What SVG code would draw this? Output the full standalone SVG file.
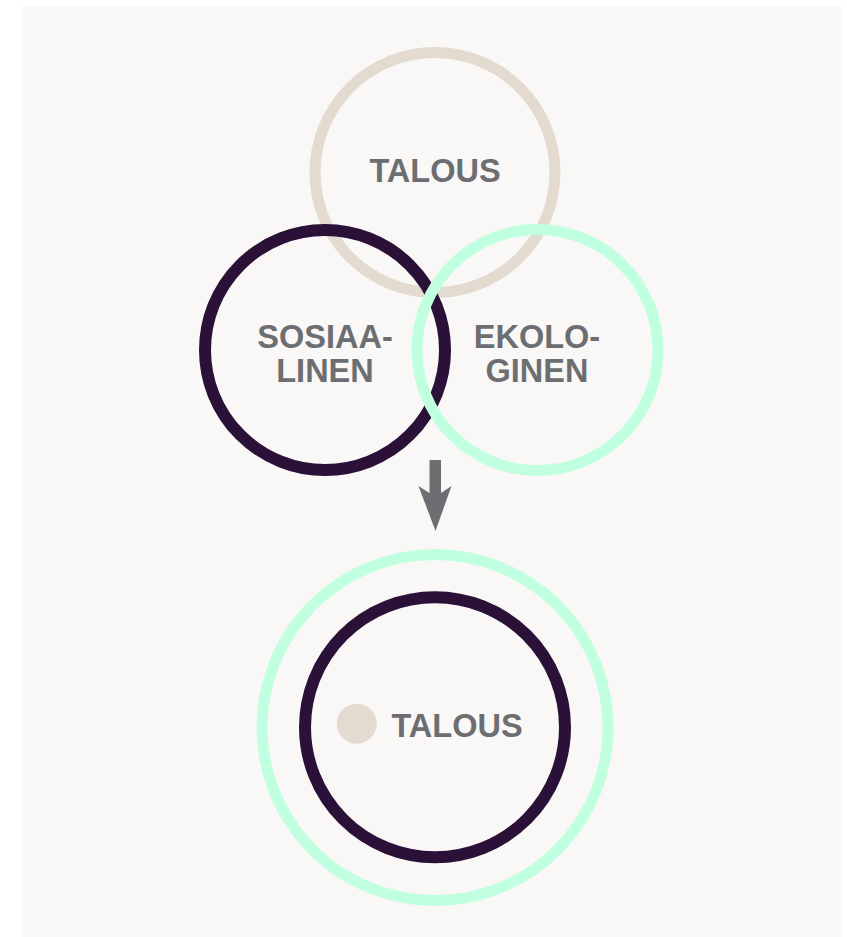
<svg xmlns="http://www.w3.org/2000/svg" width="847" height="937" viewBox="0 0 847 937">
<style>
.ring{fill:none}
.beige{stroke:#e3dbd0;stroke-width:11}
.dark{stroke:#2b1137;stroke-width:12}
.mint{stroke:#c0ffdf;stroke-width:11}
.lbl{font-family:"Liberation Sans",Arial,sans-serif;font-weight:bold;font-size:32.5px;fill:#6d6e71;text-anchor:middle}
</style>
<rect x="22" y="6" width="820" height="931" fill="#f9f8f7"/>
<g id="talous-top">
<circle class="ring beige" cx="435" cy="172.5" r="120"/>
<text class="lbl" x="435" y="181.5">TALOUS</text>
</g>
<g id="sosiaalinen">
<circle class="ring dark" cx="325" cy="350" r="120"/>
<text class="lbl" x="325" y="347.5">SOSIAA-</text>
<text class="lbl" x="325" y="381.5">LINEN</text>
</g>
<g id="ekologinen">
<circle class="ring mint" cx="537.5" cy="350" r="120.5"/>
<text class="lbl" x="537" y="347.5">EKOLO-</text>
<text class="lbl" x="537" y="381.5">GINEN</text>
</g>
<g id="connectors">
<path d="M429.5,460 H441 V493 L451.5,486 L435.5,531 L418.5,486 L429.5,493 Z" fill="#6d6e71"/>
</g>
<g id="ekologinen-outer">
<circle class="ring mint" cx="435" cy="727.5" r="173"/>
</g>
<g id="sosiaalinen-inner">
<circle class="ring dark" cx="435" cy="727.2" r="130"/>
</g>
<g id="talous-inner">
<circle cx="356.7" cy="723.7" r="20" fill="#e3dbd0"/>
<text class="lbl" x="457" y="736.5">TALOUS</text>
</g>
</svg>
